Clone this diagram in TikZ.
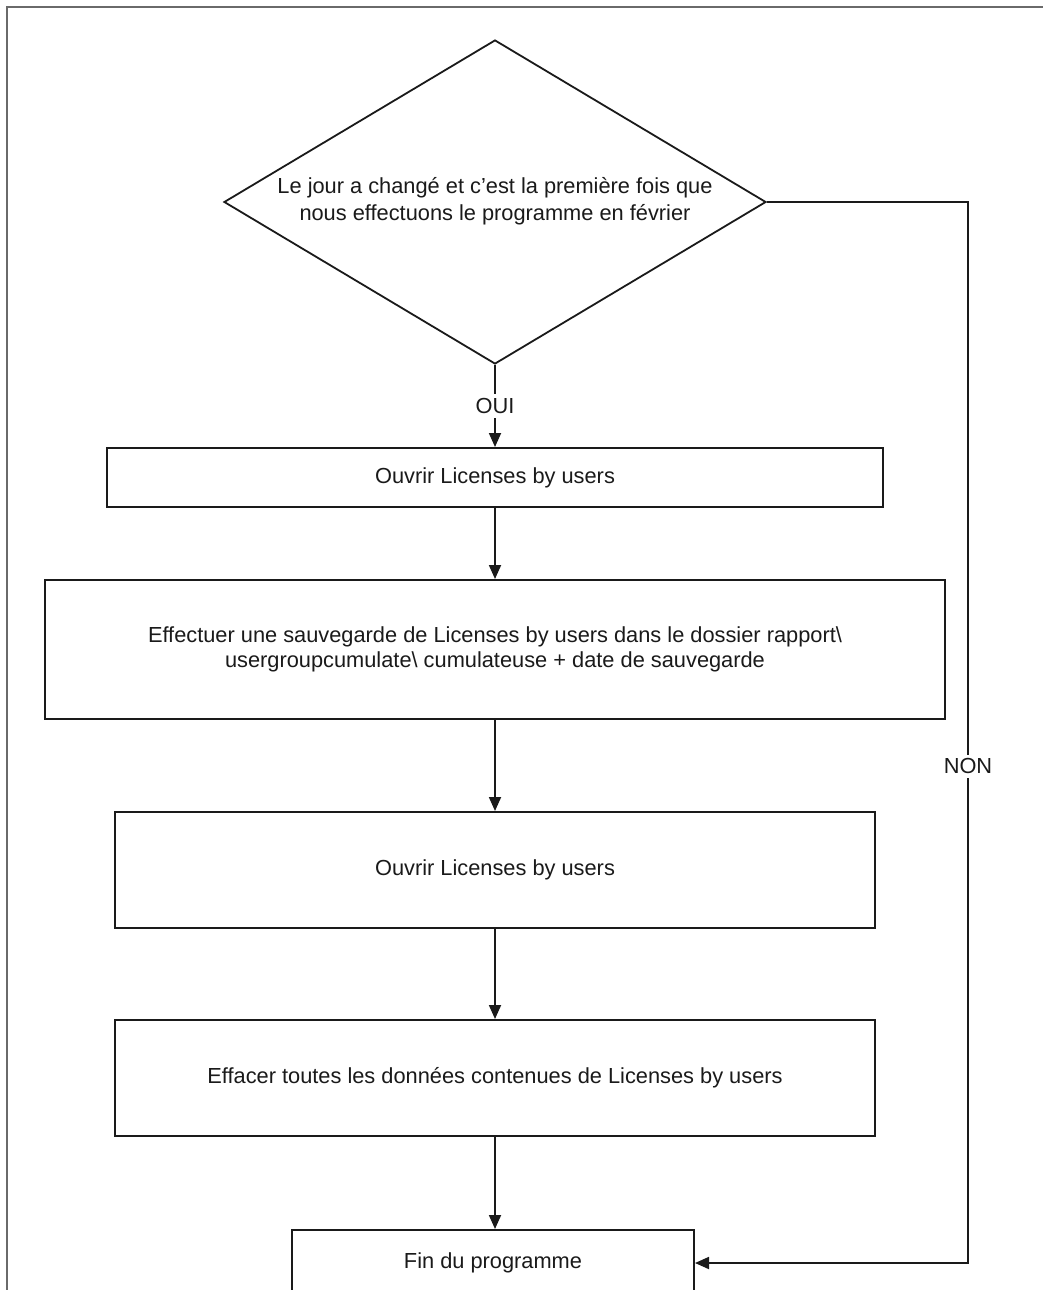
\documentclass[tikz,border=0pt]{standalone}
\usepackage{fontspec}
\setmainfont{Liberation Sans}
\usetikzlibrary{arrows.meta,shapes.geometric}
\definecolor{ln}{HTML}{1A1A1A}
\definecolor{frame}{HTML}{6A6A6A}
\begin{document}
\begin{tikzpicture}[x=1pt,y=-1pt,
  every node/.style={font=\fontsize{21.8}{25}\selectfont,text=ln},
  box/.style={draw=ln,line width=2pt,rectangle,inner sep=0pt,align=center},
  dia/.style={draw=ln,line width=1.8pt,diamond,inner sep=0pt,minimum width=542,minimum height=324},
  arr/.style={draw=ln,line width=1.8pt,-{Triangle[length=14,width=12]}},
  lab/.style={fill=white,inner sep=4pt}]
\clip (0,0) rectangle (1043,1290);
\fill[white] (0,0) rectangle (1043,1290);
\draw[frame,line width=2pt] (7,1290) -- (7,7) -- (1043,7);
\node[dia] (d) at (495,202) {};
\node[align=center,font=\fontsize{21.8}{27}\selectfont] (dt) at (495,201) {Le jour a changé et c'est la première fois que\\nous effectuons le programme en février};
\node[box,minimum width=776,minimum height=59] (b1) at (495,477.5) {Ouvrir Licenses by users};
\node[box,minimum width=900,minimum height=139] (b2) at (495,649.5) {Effectuer une sauvegarde de Licenses by users dans le dossier rapport\textbackslash\\usergroupcumulate\textbackslash{} cumulateuse + date de sauvegarde};
\node[box,minimum width=760,minimum height=116] (b3) at (495,870) {Ouvrir Licenses by users};
\node[box,minimum width=760,minimum height=116] (b4) at (495,1078) {Effacer toutes les données contenues de Licenses by users};
\node[box,minimum width=402,minimum height=66] (b5) at (493,1263) {Fin du programme};
\coordinate (c1) at (968,202);
\coordinate (c2) at (968,1263);
\draw[arr] (d.south) -- node[lab]{OUI} (b1.north);
\draw[arr] (b1.south) -- (b2.north);
\draw[arr] (b2.south) -- (b3.north);
\draw[arr] (b3.south) -- (b4.north);
\draw[arr] (b4.south) -- (b4.south |- b5.north);
\draw[arr] (d.east) -- (c1) -- node[lab,pos=0.532]{NON} (c2) -- (c2 -| b5.east);
\end{tikzpicture}
\end{document}
